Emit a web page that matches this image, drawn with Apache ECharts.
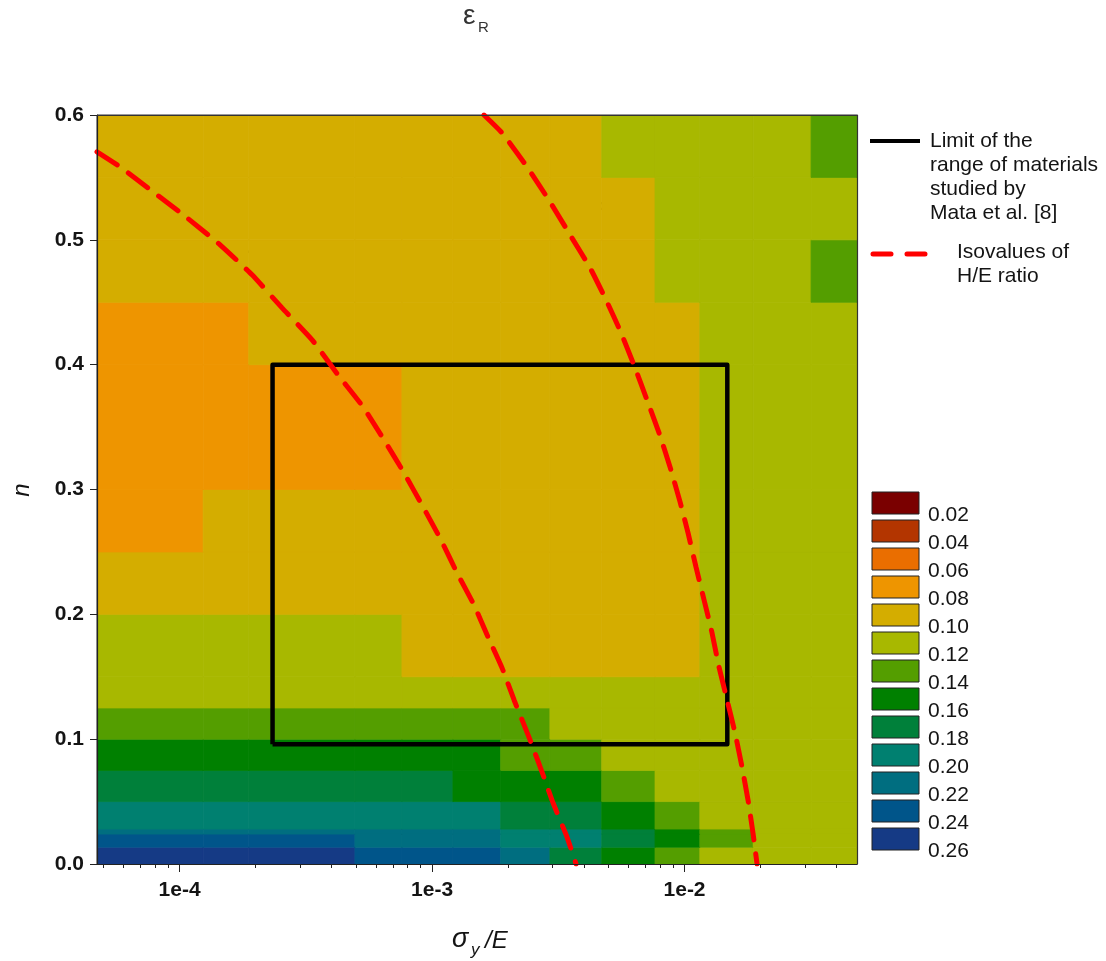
<!DOCTYPE html>
<html><head><meta charset="utf-8">
<script src="https://cdn.jsdelivr.net/npm/echarts@6/dist/echarts.min.js"></script>
<style>html,body{margin:0;padding:0;background:#fff}#c{width:1106px;height:961px}</style>
</head><body><div id="c"></div>
<script>
// ---- data ----
// column edges of the epsilon_R map (sigma_y/E)
const xEdges = [4.71e-5, 1.24e-4, 1.88e-4, 4.95e-4, 7.6e-4, 1.21e-3, 1.87e-3, 2.93e-3, 4.7e-3, 7.64e-3, 1.15e-2, 1.87e-2, 3.17e-2, 4.82e-2];
// row edges (n)
const nEdges = [0, 0.0135, 0.024, 0.028, 0.05, 0.075, 0.1, 0.125, 0.15, 0.2, 0.25, 0.3, 0.4, 0.45, 0.5, 0.55, 0.6];
// epsilon_R value in each cell (rows bottom -> top, columns left -> right)
const epsR = [
  [.25,.25,.25,.23,.23,.23,.21,.17,.15,.13,.11,.11,.11],
  [.23,.23,.23,.21,.21,.21,.19,.19,.17,.15,.13,.11,.11],
  [.21,.21,.21,.21,.21,.21,.19,.19,.17,.15,.13,.11,.11],
  [.19,.19,.19,.19,.19,.19,.17,.17,.15,.13,.11,.11,.11],
  [.17,.17,.17,.17,.17,.15,.15,.15,.13,.11,.11,.11,.11],
  [.15,.15,.15,.15,.15,.15,.13,.13,.11,.11,.11,.11,.11],
  [.13,.13,.13,.13,.13,.13,.13,.11,.11,.11,.11,.11,.11],
  [.11,.11,.11,.11,.11,.11,.11,.11,.11,.11,.11,.11,.11],
  [.11,.11,.11,.11,.09,.09,.09,.09,.09,.09,.11,.11,.11],
  [.09,.09,.09,.09,.09,.09,.09,.09,.09,.09,.11,.11,.11],
  [.07,.09,.09,.09,.09,.09,.09,.09,.09,.09,.11,.11,.11],
  [.07,.07,.07,.07,.09,.09,.09,.09,.09,.09,.11,.11,.11],
  [.07,.07,.09,.09,.09,.09,.09,.09,.09,.09,.11,.11,.11],
  [.09,.09,.09,.09,.09,.09,.09,.09,.09,.11,.11,.11,.13],
  [.09,.09,.09,.09,.09,.09,.09,.09,.09,.11,.11,.11,.11],
  [.09,.09,.09,.09,.09,.09,.09,.09,.11,.11,.11,.11,.13]
];
const bandColors = ['#7a0000','#b33500','#ea6e00','#ee9500','#d4ad00','#a8b800','#549e00','#008000','#00803a','#008070','#006e80','#00558a','#153a85'];
const bandLabels = ['0.02','0.04','0.06','0.08','0.10','0.12','0.14','0.16','0.18','0.20','0.22','0.24','0.26'];
const xMajorTicks = [1e-4, 1e-3, 1e-2];
const yTicks = [0, 0.1, 0.2, 0.3, 0.4, 0.5, 0.6];
// limit of the range of materials studied by Mata et al. [8]
const rangeBox = [[2.335e-4,0.096],[1.477e-2,0.096],[1.477e-2,0.4],[2.335e-4,0.4],[2.335e-4,0.096]];
// isovalue H/E = 1/105
const iso105 = [[4.71e-5,0.5705],[5.81e-5,0.5585],[7.85e-5,0.5385],[1.071e-4,0.5176],[1.447e-4,0.4960],[1.937e-4,0.4720],[2.546e-4,0.4455],[3.348e-4,0.4199],[4.242e-4,0.3918],[5.33e-4,0.3662],[6.455e-4,0.3397],[7.745e-4,0.3133],[9.21e-4,0.2861],[1.085e-3,0.2596],[1.256e-3,0.2332],[1.466e-3,0.2075],[1.666e-3,0.1819],[1.893e-3,0.1571],[2.113e-3,0.1314],[2.444e-3,0.0994],[2.726e-3,0.0737],[3.015e-3,0.0489],[3.424e-3,0.0216],[3.718e-3,0.0]];
// isovalue H/E = 1/21
const iso21 = [[1.606e-3,0.6],[1.893e-3,0.5857],[2.378e-3,0.5585],[2.933e-3,0.5304],[3.520e-3,0.5040],[4.224e-3,0.4776],[4.888e-3,0.4519],[5.605e-3,0.4255],[6.368e-3,0.3974],[7.10e-3,0.3718],[7.925e-3,0.3454],[8.76e-3,0.3181],[9.60e-3,0.2901],[1.0325e-2,0.2652],[1.110e-2,0.2380],[1.195e-2,0.2115],[1.285e-2,0.1851],[1.369e-2,0.1579],[1.474e-2,0.1314],[1.585e-2,0.1050],[1.689e-2,0.0777],[1.784e-2,0.0513],[1.867e-2,0.0248],[1.937e-2,0.0]];

// ---- build ----
const L = Math.log10;
const xMin = L(xEdges[0]), xMax = L(xEdges[xEdges.length - 1]);
const cells = [];
for (let r = 0; r < epsR.length; r++)
  for (let c = 0; c < epsR[r].length; c++)
    cells.push([L(xEdges[c]), L(xEdges[c + 1]), nEdges[r], nEdges[r + 1], epsR[r][c]]);
const minorTicks = [];
for (let e = -5; e <= -1; e++) for (let k = 2; k <= 9; k++) {
  const v = L(k * Math.pow(10, e));
  if (v > xMin && v < xMax) minorTicks.push(v);
}
const toLog = arr => arr.map(p => [L(p[0]), p[1]]);
const FONT = 'Arial, "Liberation Sans", Helvetica, sans-serif';
const TXT = '#141414';

const graphics = [];
// title
graphics.push({type:'text', left:463, top:2, style:{text:'ε', font:'28px ' + FONT, fill:'#333'}});
graphics.push({type:'text', left:478, top:20, style:{text:'R', font:'15px ' + FONT, fill:'#333'}});
// y name
graphics.push({type:'text', x:22, y:490, rotation:Math.PI/2, style:{text:'n', font:'italic 24px ' + FONT, fill:TXT, align:'center', verticalAlign:'middle'}});
// x name
graphics.push({type:'text', left:452, top:926, style:{text:'σ', font:'italic 27px ' + FONT, fill:TXT}});
graphics.push({type:'text', left:471, top:942, style:{text:'y', font:'italic 17px ' + FONT, fill:TXT}});
graphics.push({type:'text', left:485, top:929, style:{text:'/E', font:'italic 24px ' + FONT, fill:TXT}});
// line legend
graphics.push({type:'line', shape:{x1:870, y1:141, x2:920, y2:141}, style:{stroke:'#000', lineWidth:4}});
graphics.push({type:'text', left:930, top:129, style:{text:'Limit of the\nrange of materials\nstudied by\nMata et al. [8]', font:'21px ' + FONT, lineHeight:24, fill:TXT}});
graphics.push({type:'line', shape:{x1:873, y1:254, x2:926, y2:254}, style:{stroke:'#ff0000', lineWidth:5, lineDash:[18,16], lineCap:'round'}});
graphics.push({type:'text', left:957, top:240, style:{text:'Isovalues of\nH/E ratio', font:'21px ' + FONT, lineHeight:24, fill:TXT}});
// curve labels
graphics.push({type:'text', left:241, top:243, style:{text:'H/E=1/105', font:'bold 20px ' + FONT, fill:'#000'}});
graphics.push({type:'text', left:565, top:197, style:{text:'H/E=1/21', font:'bold 20px ' + FONT, fill:'#000'}});
// colour legend
bandColors.forEach((c, i) => {
  graphics.push({type:'rect', shape:{x:872, y:492 + 28 * i, width:47, height:22}, style:{fill:c, stroke:'#222', lineWidth:1}});
  graphics.push({type:'text', left:928, top:505 + 28 * i, style:{text:bandLabels[i], font:'21px ' + FONT, fill:TXT}});
});

const chart = echarts.init(document.getElementById('c'));
chart.setOption({
  animation: false,
  backgroundColor: '#fff',
  grid: {left: 97, top: 115, width: 760, height: 749, show: true, borderColor: '#333', borderWidth: 1},
  xAxis: [
    {type:'value', min:xMin, max:xMax, position:'bottom', z:5,
     axisLine:{show:true, lineStyle:{color:'#222', width:1.2}},
     axisTick:{show:true, length:8, customValues:xMajorTicks.map(L), lineStyle:{color:'#222'}},
     axisLabel:{customValues:xMajorTicks.map(L), margin:16, fontSize:21, fontWeight:'bold', fontFamily:FONT, color:TXT,
                formatter: v => '1e' + Math.round(v)},
     splitLine:{show:false}},
    {type:'value', min:xMin, max:xMax, position:'bottom', z:5,
     axisLine:{show:false},
     axisTick:{show:true, length:4, customValues:minorTicks, lineStyle:{color:'#222'}},
     axisLabel:{show:false}, splitLine:{show:false}},
    {type:'value', min:xMin, max:xMax, position:'top', z:5,
     axisLine:{show:true, lineStyle:{color:'#333', width:1.2}}, axisTick:{show:false}, axisLabel:{show:false}, splitLine:{show:false}}
  ],
  yAxis: [
    {type:'value', min:yTicks[0], max:yTicks[yTicks.length-1], interval:0.1, z:5,
     axisLine:{show:true, lineStyle:{color:'#222', width:1.2}},
     axisTick:{show:true, length:7, lineStyle:{color:'#222'}},
     axisLabel:{margin:13, fontSize:21, fontWeight:'bold', fontFamily:FONT, color:TXT, formatter: v => v.toFixed(1)},
     splitLine:{show:false}},
    {type:'value', min:yTicks[0], max:yTicks[yTicks.length-1], position:'right', z:5,
     axisLine:{show:true, lineStyle:{color:'#333', width:1.2}}, axisTick:{show:false}, axisLabel:{show:false}, splitLine:{show:false}}
  ],
  series: [
    {type:'custom', z:1, xAxisIndex:0, yAxisIndex:0, data:cells, encode:{x:[0,1], y:[2,3]}, clip:true,
     renderItem(params, api) {
       const a = api.coord([api.value(0), api.value(3)]);
       const b = api.coord([api.value(1), api.value(2)]);
       const col = bandColors[Math.min(12, Math.floor(api.value(4) / 0.02))];
       return {type:'rect', shape:{x:a[0], y:a[1], width:b[0]-a[0], height:b[1]-a[1]}, style:{fill:col, stroke:col, lineWidth:0.8}};
     }},
    {type:'line', z:3, data:toLog(rangeBox), symbol:'none', lineStyle:{color:'#000', width:4.5, join:'round'}},
    {type:'line', z:4, data:toLog(iso105), symbol:'none', smooth:0.15, lineStyle:{color:'#ff0000', width:5, type:[24,14], cap:'round'}},
    {type:'line', z:4, data:toLog(iso21), symbol:'none', smooth:0.15, lineStyle:{color:'#ff0000', width:5, type:[24,14], cap:'round'}}
  ],
  graphic: graphics
});
</script></body></html>
